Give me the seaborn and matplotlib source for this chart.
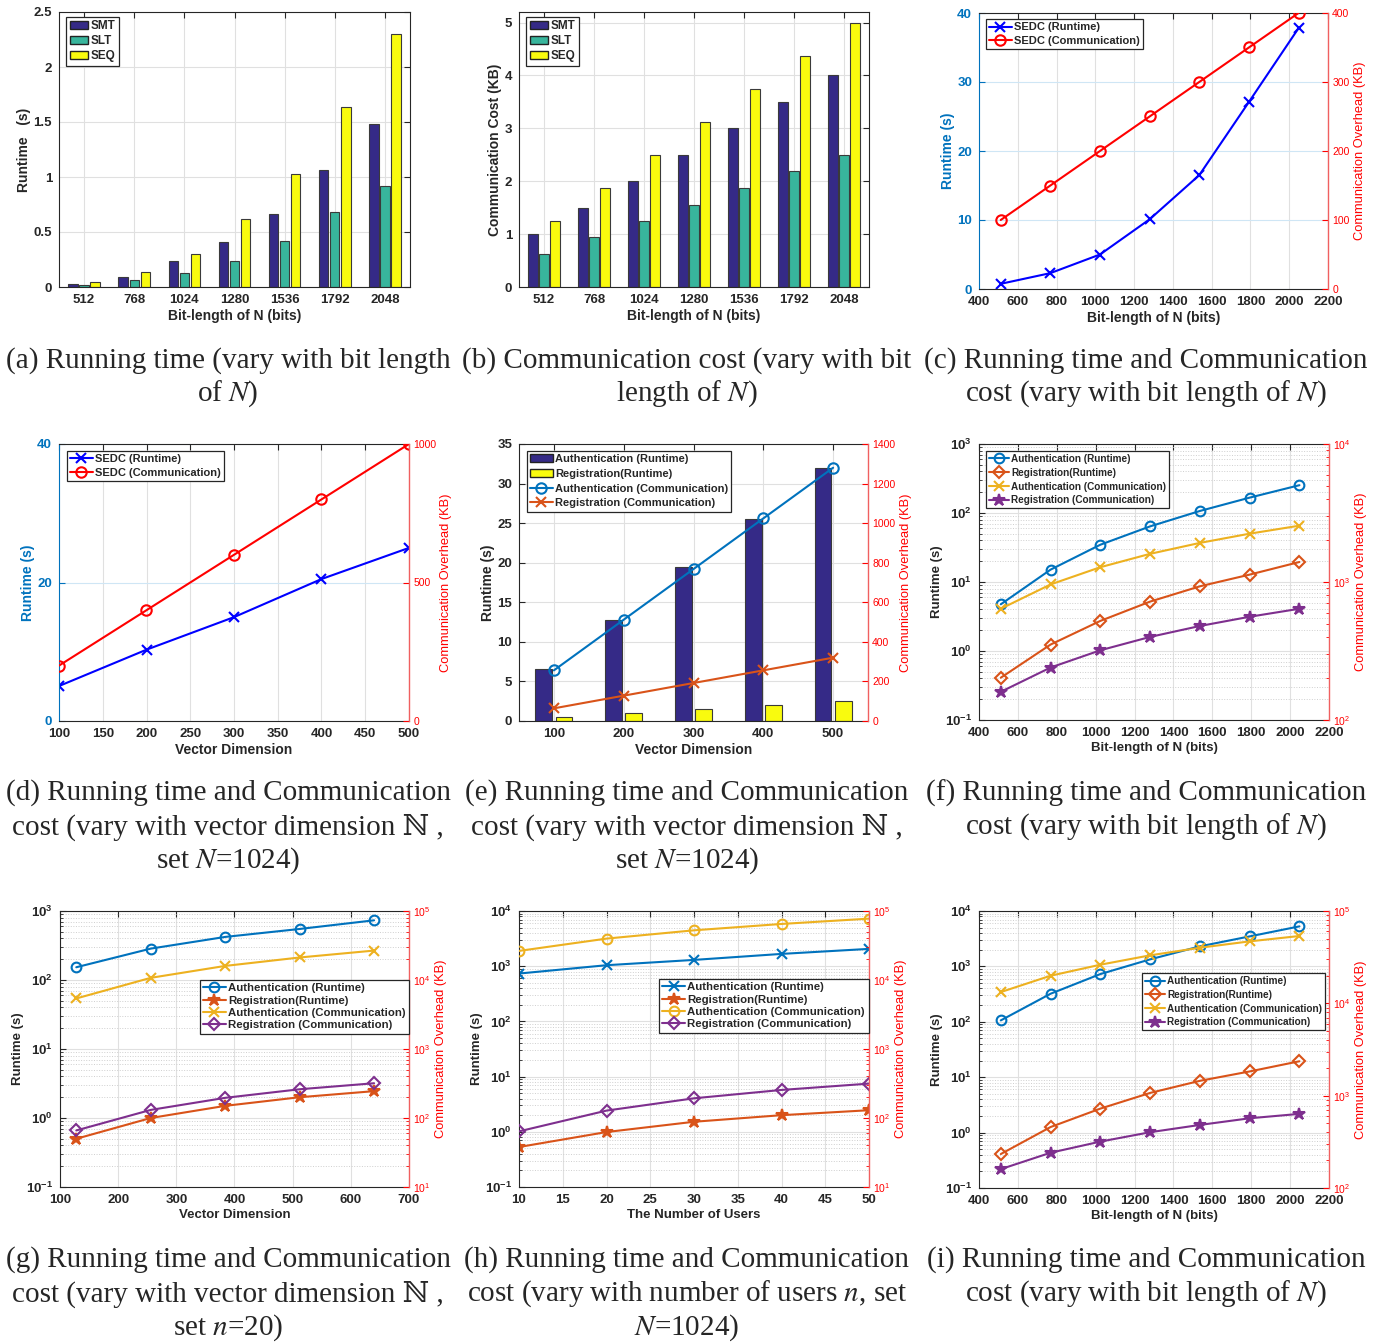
import numpy as np
import pandas as pd
import matplotlib
matplotlib.use('Agg')
import matplotlib.pyplot as plt
import seaborn as sns
from matplotlib.patches import Patch
from matplotlib.ticker import LogLocator, NullFormatter

# ---- data ----
bits = [512, 768, 1024, 1280, 1536, 1792, 2048]
dims = [100, 200, 300, 400, 500]
dims_g = [128, 256, 384, 512, 640]
users = [10, 20, 30, 40, 50]

# (a) runtime (s)
a_smt = [0.03, 0.09, 0.24, 0.41, 0.66, 1.06, 1.48]
a_slt = [0.02, 0.06, 0.13, 0.24, 0.42, 0.68, 0.92]
a_seq = [0.05, 0.14, 0.30, 0.62, 1.03, 1.64, 2.30]
# (b) communication cost (KB)
b_smt = [1.0, 1.5, 2.0, 2.5, 3.0, 3.5, 4.0]
b_slt = [0.625, 0.94, 1.25, 1.56, 1.875, 2.19, 2.5]
b_seq = [1.25, 1.875, 2.5, 3.125, 3.75, 4.375, 5.0]
# (c) SEDC vs bit length
c_run = [0.75, 2.3, 5.0, 10.1, 16.5, 27.1, 37.8]
c_com = [100, 150, 200, 250, 300, 350, 400]
# (d) SEDC vs vector dimension
d_run = [5.05, 10.3, 15.0, 20.5, 25.0]
d_com = [200, 400, 600, 800, 1000]
# (e)
e_auth_run = [6.6, 12.8, 19.5, 25.5, 32.0]
e_reg_run = [0.5, 1.0, 1.5, 2.0, 2.5]
e_auth_com = [256, 512, 768, 1024, 1280]
e_reg_com = [64, 128, 192, 256, 320]
# (f)
f_auth_run = [4.75, 15.1, 34.7, 64, 107, 167, 253]
f_reg_run = [0.41, 1.24, 2.73, 5.2, 8.66, 12.8, 19.5]
f_auth_com = [640, 960, 1280, 1600, 1920, 2240, 2560]
f_reg_com = [160, 240, 320, 400, 480, 560, 640]
# (g)
g_auth_run = [153, 285, 421, 549, 733]
g_reg_run = [0.5, 1.0, 1.5, 2.0, 2.45]
g_auth_com = [5400, 10750, 16000, 21200, 26700]
g_reg_com = [66, 131, 196, 261, 319]
# (h)
h_auth_run = [736, 1042, 1300, 1670, 2060]
h_reg_run = [0.53, 0.99, 1.52, 2.0, 2.46]
h_auth_com = [26400, 39800, 52500, 64900, 77500]
h_reg_com = [64, 128, 193, 255, 315]
# (i)
i_auth_run = [106, 321, 727, 1340, 2300, 3480, 5280]
i_reg_run = [0.41, 1.26, 2.71, 5.2, 8.6, 12.7, 19.4]
i_auth_com = [13240, 19900, 26200, 33100, 40000, 46900, 53600]
i_reg_com = [160, 241, 318, 402, 482, 569, 635]

captions = [
    ["(a) Running time (vary with bit length", "of $N$)"],
    ["(b) Communication cost (vary with bit", "length of $N$)"],
    ["(c) Running time and Communication", "cost (vary with bit length of $N$)"],
    ["(d) Running time and Communication", "cost (vary with vector dimension \u2115 ,", "set $N$=1024)"],
    ["(e) Running time and Communication", "cost (vary with vector dimension \u2115 ,", "set $N$=1024)"],
    ["(f) Running time and Communication", "cost (vary with bit length of $N$)"],
    ["(g) Running time and Communication", "cost (vary with vector dimension \u2115 ,", "set $n$=20)"],
    ["(h) Running time and Communication", "cost (vary with number of users $n$, set", "$N$=1024)"],
    ["(i) Running time and Communication", "cost (vary with bit length of $N$)"],
]

NAVY, TEAL, YEL = '#352A87', '#38B59C', '#F9FB0E'
MB, MO, MY, MP = '#0072BD', '#D95319', '#EDB120', '#7E2F8E'
RED = '#FF0000'
DARK = '#262626'

sns.set_style('white')
plt.rcParams['font.family'] = ['Liberation Sans', 'DejaVu Sans']
plt.rcParams['axes.labelweight'] = 'bold'
plt.rcParams['mathtext.fontset'] = 'stix'

W, H = 1385, 1342
fig = plt.figure(figsize=(W / 100, H / 100), dpi=100)
twins = []


def box(l, t, r, b):
    return [l / W, 1 - b / H, (r - l) / W, (b - t) / H]


def base(ax, lcol=DARK, twin=False):
    ax.tick_params(direction='in', length=4, width=0.8, top=True, right=not twin,
                   labelsize=9.5, colors=DARK, pad=5)
    if twin:
        ax.tick_params(axis='y', colors=lcol)
        ax.spines['right'].set_visible(False)
    for s in ax.spines.values():
        s.set_color(DARK)
        s.set_linewidth(0.8)
    ax.spines['left'].set_color(lcol)
    ax.grid(True, color='#e0e0e0', lw=0.8)
    ax.set_axisbelow(True)


def right_axis(ax, ylim, yticks=None, log=False):
    ax2 = ax.twinx()
    twins.append(ax2)
    if log:
        ax2.set_yscale('log')
        ax2.yaxis.set_major_locator(LogLocator(base=10, numticks=12))
        ax2.yaxis.set_minor_locator(LogLocator(base=10, subs=np.arange(2, 10), numticks=12))
        ax2.yaxis.set_minor_formatter(NullFormatter())
    ax2.set_ylim(*ylim)
    if yticks is not None:
        ax2.set_yticks(yticks)
    ax2.tick_params(axis='y', which='both', direction='in', colors=RED, labelsize=7.5, pad=3)
    ax2.tick_params(axis='y', which='major', length=4)
    ax2.tick_params(axis='y', which='minor', length=2)
    for k in ('left', 'top', 'bottom'):
        ax2.spines[k].set_visible(False)
    ax2.spines['right'].set_color('#F06060')
    ax2.spines['right'].set_linewidth(1.0)
    ax2.set_ylabel('Communication Overhead (KB)', color=RED, fontweight='normal',
                   fontsize=9.3, labelpad=3)
    return ax2


def log_left(ax, ylim):
    ax.set_yscale('log')
    ax.yaxis.set_major_locator(LogLocator(base=10, numticks=12))
    ax.yaxis.set_minor_locator(LogLocator(base=10, subs=np.arange(2, 10), numticks=12))
    ax.yaxis.set_minor_formatter(NullFormatter())
    ax.set_ylim(*ylim)
    ax.tick_params(axis='y', which='minor', direction='in', length=2, left=True, right=False)
    ax.grid(True, which='minor', axis='y', ls=':', color='#cfcfcf', lw=0.7)


def line(ax, x, y, color, marker, ms=7, fill=False, lw=1.5):
    sns.lineplot(x=x, y=y, ax=ax, color=color, marker=marker, markersize=ms,
                 markerfacecolor=color if fill else 'none', markeredgecolor=color,
                 markeredgewidth=1.5, lw=lw, legend=False)
    return ax.lines[-1]


def legend(ax, handles, labels, anchor, fs=8, hl=2.0, sp=0.4):
    lg = ax.legend(handles, labels, loc='upper left', bbox_to_anchor=anchor,
                   borderaxespad=0, fancybox=False, framealpha=1, edgecolor=DARK,
                   handlelength=hl, handletextpad=0.2, labelspacing=sp,
                   borderpad=0.3, prop={'weight': 'bold', 'size': fs})
    lg.get_frame().set_linewidth(0.9)
    return lg


def bars(ax, cats, series, names, colors, width, gap):
    df = pd.DataFrame({
        'x': [str(c) for _ in names for c in cats],
        'y': [v for s in series for v in s],
        'g': [n for n, s in zip(names, series) for _ in s],
    })
    sns.barplot(data=df, x='x', y='y', hue='g', hue_order=names,
                palette=dict(zip(names, colors)), width=width, gap=gap, saturation=1,
                edgecolor='#3a3a3a', linewidth=0.8, errorbar=None, legend=False, ax=ax)
    ax.set_xlim(-0.5, len(cats) - 0.5)
    ax.grid(True, axis='both', color='#e0e0e0', lw=0.8)


bar_names = ['SMT', 'SLT', 'SEQ']
bar_cols = [NAVY, TEAL, YEL]
LFS = 10  # axis label size
YPAD = 1.5

# ---- (a) ----
ax = fig.add_axes(box(59, 12, 410, 287))
bars(ax, bits, [a_smt, a_slt, a_seq], bar_names, bar_cols, 0.66, 0.15)
ax.set_ylim(0, 2.5)
ax.set_yticks([0, 0.5, 1, 1.5, 2, 2.5])
ax.set_yticklabels(['0', '0.5', '1', '1.5', '2', '2.5'])
base(ax)
ax.set_xlabel('Bit-length of N (bits)', fontsize=LFS, labelpad=2)
ax.set_ylabel('Runtime   (s)', fontsize=LFS, labelpad=YPAD)
legend(ax, [Patch(facecolor=c, edgecolor='#222222') for c in bar_cols], bar_names,
       (0.02, 0.982), fs=8.5, hl=1.6, sp=0.25)

# ---- (b) ----
ax = fig.add_axes(box(519, 12, 869, 287))
bars(ax, bits, [b_smt, b_slt, b_seq], bar_names, bar_cols, 0.66, 0.15)
ax.set_ylim(0, 5.2)
ax.set_yticks([0, 1, 2, 3, 4, 5])
base(ax)
ax.set_xlabel('Bit-length of N (bits)', fontsize=LFS, labelpad=2)
ax.set_ylabel('Communication Cost (KB)', fontsize=LFS, labelpad=YPAD)
legend(ax, [Patch(facecolor=c, edgecolor='#222222') for c in bar_cols], bar_names,
       (0.02, 0.982), fs=8.5, hl=1.6, sp=0.25)

# ---- (c) ----
ax = fig.add_axes(box(979, 13, 1328, 289))
base(ax, MB, twin=True)
ax.grid(True, axis='y', color='#cfe6f5', lw=0.8)
l1 = line(ax, bits, c_run, '#0000FF', 'x', ms=7.5)
ax.set_xlim(400, 2200)
ax.set_xticks(range(400, 2201, 200))
ax.set_ylim(0, 40)
ax.set_yticks([0, 10, 20, 30, 40])
ax.set_xlabel('Bit-length of N (bits)', fontsize=LFS, labelpad=2)
ax.set_ylabel('Runtime (s)', fontsize=LFS, color=MB, labelpad=YPAD)
ax2 = right_axis(ax, (0, 400), [0, 100, 200, 300, 400])
l2 = line(ax2, bits, c_com, RED, 'o', ms=7.5)
legend(ax2, [l1, l2], ['SEDC (Runtime)', 'SEDC (Communication)'], (0.02, 0.978), fs=8, sp=0.3)

# ---- (d) ----
ax = fig.add_axes(box(59, 444, 409, 721))
base(ax, MB, twin=True)
ax.grid(True, axis='y', color='#cfe6f5', lw=0.8)
l1 = line(ax, dims, d_run, '#0000FF', 'x', ms=7.5)
ax.set_xlim(100, 500)
ax.set_xticks(range(100, 501, 50))
ax.set_ylim(0, 40)
ax.set_yticks([0, 20, 40])
ax.set_xlabel('Vector Dimension', fontsize=LFS, labelpad=2)
ax.set_ylabel('Runtime (s)', fontsize=LFS, color=MB, labelpad=YPAD)
ax2 = right_axis(ax, (0, 1000), [0, 500, 1000])
l2 = line(ax2, dims, d_com, RED, 'o', ms=7.5)
legend(ax2, [l1, l2], ['SEDC (Runtime)', 'SEDC (Communication)'], (0.023, 0.975), fs=8, sp=0.3)

# ---- (e) ----
ax = fig.add_axes(box(519, 444, 868, 721))
bars(ax, dims, [e_auth_run, e_reg_run], ['auth', 'reg'], [NAVY, YEL], 0.58, 0.17)
ax.set_ylim(0, 35)
ax.set_yticks(range(0, 36, 5))
base(ax, twin=True)
ax.set_xlabel('Vector Dimension', fontsize=LFS, labelpad=2)
ax.set_ylabel('Runtime (s)', fontsize=LFS, labelpad=YPAD)
ax2 = right_axis(ax, (0, 1400), range(0, 1401, 200))
pos = np.arange(len(dims))
l3 = line(ax2, pos, e_auth_com, MB, 'o', ms=7.5)
l4 = line(ax2, pos, e_reg_com, MO, 'x', ms=7.5)
legend(ax2, [Patch(facecolor=NAVY, edgecolor='#222222'), Patch(facecolor=YEL, edgecolor='#222222'), l3, l4],
       ['Authentication (Runtime)', 'Registration(Runtime)',
        'Authentication (Communication)', 'Registration (Communication)'],
       (0.023, 0.975), fs=8, sp=0.42)

# ---- log panels ----
four = ['Authentication (Runtime)', 'Registration(Runtime)',
        'Authentication (Communication)', 'Registration (Communication)']


def log_panel(rect, x, xlim, xticks, xlabel, lylim, rylim, specs, anchor, fs=7.5, sp=0.35):
    ax = fig.add_axes(box(*rect))
    base(ax, twin=True)
    log_left(ax, lylim)
    ax.set_xlim(*xlim)
    ax.set_xticks(xticks)
    ax.set_xlabel(xlabel, fontsize=9.5, labelpad=2)
    ax.set_ylabel('Runtime (s)', fontsize=9.5, labelpad=YPAD)
    ax2 = right_axis(ax, rylim, log=True)
    hs = []
    for ys, side, col, mk, ms, fill in specs:
        hs.append(line(ax if side == 'L' else ax2, x, ys, col, mk, ms=ms, fill=fill))
    legend(ax2, hs, four, anchor, fs=fs, sp=sp)
    return ax


# (f)
log_panel((979, 444, 1329, 720), bits, (400, 2200), range(400, 2201, 200),
          'Bit-length of N (bits)', (0.1, 1000), (100, 10000),
          [(f_auth_run, 'L', MB, 'o', 7, False), (f_reg_run, 'L', MO, 'D', 6, False),
           (f_auth_com, 'R', MY, 'x', 7, False), (f_reg_com, 'R', MP, '*', 9, True)],
          (0.02, 0.975), fs=7.2, sp=0.38)
# (g)
log_panel((60, 911, 409, 1187), dims_g, (100, 700), range(100, 701, 100),
          'Vector Dimension', (0.1, 1000), (10, 100000),
          [(g_auth_run, 'L', MB, 'o', 7, False), (g_reg_run, 'L', MO, '*', 9, True),
           (g_auth_com, 'R', MY, 'x', 7, False), (g_reg_com, 'R', MP, 'D', 6, False)],
          (0.40, 0.75), fs=8.2, sp=0.2)
# (h)
log_panel((519, 911, 869, 1187), users, (10, 50), range(10, 51, 5),
          'The Number of Users', (0.1, 10000), (10, 100000),
          [(h_auth_run, 'L', MB, 'x', 7, False), (h_reg_run, 'L', MO, '*', 9, True),
           (h_auth_com, 'R', MY, 'o', 7, False), (h_reg_com, 'R', MP, 'D', 6, False)],
          (0.40, 0.754), fs=8.2, sp=0.2)
# (i)
log_panel((979, 911, 1329, 1188), bits, (400, 2200), range(400, 2201, 200),
          'Bit-length of N (bits)', (0.1, 10000), (100, 100000),
          [(i_auth_run, 'L', MB, 'o', 7, False), (i_reg_run, 'L', MO, 'D', 6, False),
           (i_auth_com, 'R', MY, 'x', 7, False), (i_reg_com, 'R', MP, '*', 9, True)],
          (0.466, 0.776), fs=7.2, sp=0.38)

# ---- captions ----
centers = [228, 687, 1146]
row_y = [361, 793, 1260]
row_step = [33, 34, 34]
for k, lines in enumerate(captions):
    cx = centers[k % 3]
    y0 = row_y[k // 3]
    for j, s in enumerate(lines):
        fig.text(cx / W, 1 - (y0 + row_step[k // 3] * j) / H, s, ha='center', va='center',
                 fontsize=21, fontweight='normal',
                 family=['Liberation Serif', 'DejaVu Serif', 'DejaVu Sans'])

# bold tick labels on the main axes (right axes stay regular)
fig.canvas.draw()
for a in fig.axes:
    labs = a.get_yticklabels() if a in twins else a.get_xticklabels() + a.get_yticklabels()
    for lab in labs:
        lab.set_fontweight('normal' if a in twins else 'bold')

fig.savefig('out.png', dpi=100)
